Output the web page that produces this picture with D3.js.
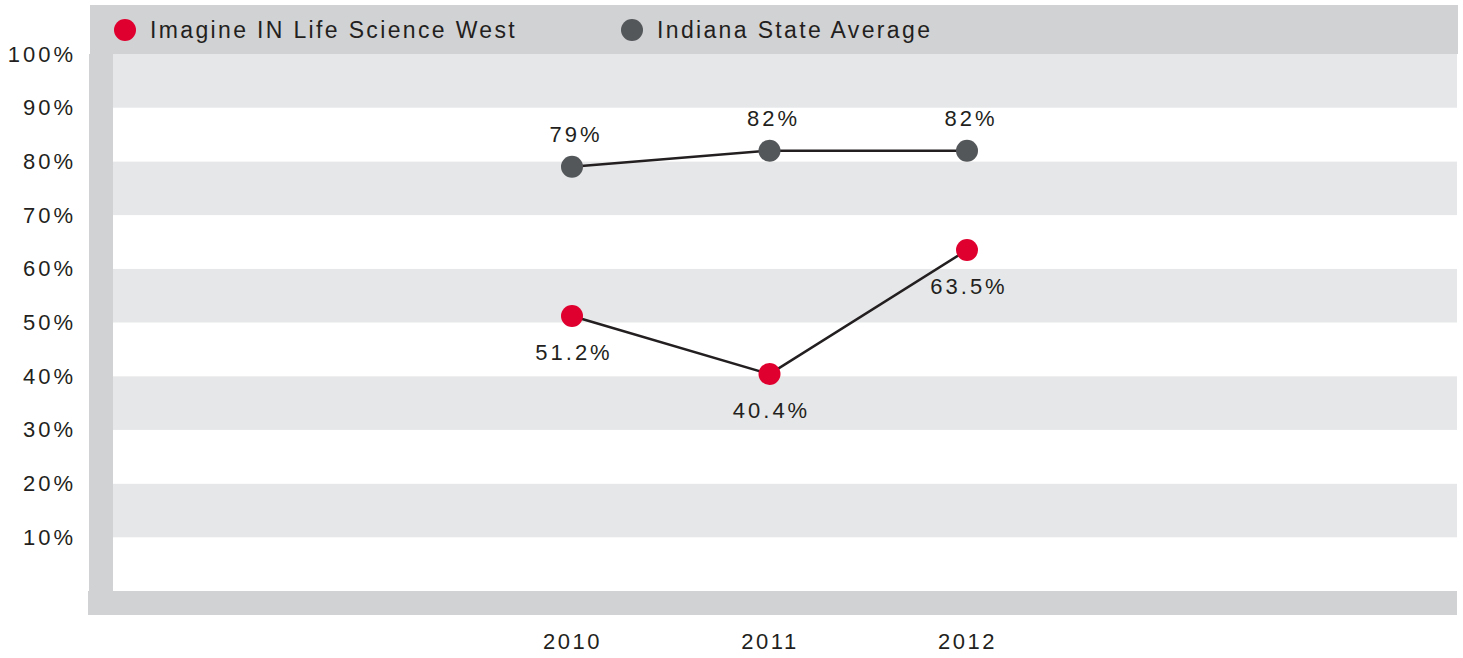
<!DOCTYPE html>
<html>
<head>
<meta charset="UTF-8">
<script src="https://d3js.org/d3.v7.min.js"></script>
<style>
  body { margin: 0; background: #fff; }
  text { font-family: "Liberation Sans", Arial, sans-serif; fill: #231f20; }
</style>
</head>
<body>
<div id="chart"></div>
<script>
// data
var years = [2010, 2011, 2012];
var schoolValues = [51.2, 40.4, 63.5];
var stateValues = [79, 82, 82];
var schoolLabels = ["51.2%", "40.4%", "63.5%"];
var stateLabels = ["79%", "82%", "82%"];
var yTicks = [10, 20, 30, 40, 50, 60, 70, 80, 90, 100];
var seriesNames = ["Imagine IN Life Science West", "Indiana State Average"];
var seriesColors = ["#e0002f", "#54575a"];

var width = 1463, height = 658;
var plot = {left: 113, right: 1457, top: 54, bottom: 591};

var svg = d3.select("#chart").append("svg")
    .attr("width", width)
    .attr("height", height);

var x = d3.scaleLinear().domain([2010, 2012]).range([572, 967]);
var y = d3.scaleLinear().domain([0, 100]).range([plot.bottom, plot.top]);

// frame: legend band, left and bottom bars
svg.append("rect").attr("x", 90).attr("y", 5).attr("width", 1368).attr("height", plot.top - 5).attr("fill", "#d1d2d4");
svg.append("rect").attr("x", 89).attr("y", plot.top).attr("width", plot.left - 89).attr("height", plot.bottom - plot.top).attr("fill", "#d1d2d4");
svg.append("rect").attr("x", 88).attr("y", plot.bottom).attr("width", 1369).attr("height", 24).attr("fill", "#d1d2d4");

// stripes every 10%
var bands = d3.range(0, 100, 10);
svg.selectAll("rect.band")
    .data(bands)
  .enter().append("rect")
    .attr("class", "band")
    .attr("x", plot.left)
    .attr("width", plot.right - plot.left)
    .attr("y", function(d) { return y(d + 10); })
    .attr("height", function(d) { return y(d) - y(d + 10); })
    .attr("fill", function(d, i) { return i % 2 == 1 ? "#e6e7e8" : "#ffffff"; });

// y axis
var yAxis = svg.append("g")
    .attr("transform", "translate(76,0)")
    .call(d3.axisLeft(y).tickValues(yTicks).tickSize(0).tickPadding(0).tickFormat(function(d) { return d + "%"; }));
yAxis.select(".domain").remove();
yAxis.selectAll("text")
    .style("font-size", "22px")
    .style("letter-spacing", "3px")
    .style("font-family", "'Liberation Sans', Arial, sans-serif")
    .attr("fill", "#231f20");

// x axis
var xAxis = svg.append("g")
    .attr("transform", "translate(0,633)")
    .call(d3.axisBottom(x).tickValues(years).tickSize(0).tickPadding(0).tickFormat(d3.format("d")));
xAxis.select(".domain").remove();
xAxis.selectAll("text")
    .style("font-size", "22px")
    .style("letter-spacing", "2.5px")
    .style("font-family", "'Liberation Sans', Arial, sans-serif")
    .attr("fill", "#231f20");

// lines
var line = d3.line()
    .x(function(d) { return x(d.year); })
    .y(function(d) { return y(d.value); });

var schoolData = years.map(function(yr, i) { return {year: yr, value: schoolValues[i], label: schoolLabels[i]}; });
var stateData = years.map(function(yr, i) { return {year: yr, value: stateValues[i], label: stateLabels[i]}; });

[schoolData, stateData].forEach(function(data) {
  svg.append("path")
      .datum(data)
      .attr("d", line)
      .attr("fill", "none")
      .attr("stroke", "#231f20")
      .attr("stroke-width", 2.5);
});

// points
svg.selectAll("circle.school")
    .data(schoolData)
  .enter().append("circle")
    .attr("cx", function(d) { return x(d.year); })
    .attr("cy", function(d) { return y(d.value); })
    .attr("r", 11)
    .attr("fill", seriesColors[0]);

svg.selectAll("circle.state")
    .data(stateData)
  .enter().append("circle")
    .attr("cx", function(d) { return x(d.year); })
    .attr("cy", function(d) { return y(d.value); })
    .attr("r", 11)
    .attr("fill", seriesColors[1]);

// value labels
svg.selectAll("text.schoolLabel")
    .data(schoolData)
  .enter().append("text")
    .attr("x", function(d) { return x(d.year) + 2; })
    .attr("y", function(d) { return y(d.value) + 44; })
    .attr("text-anchor", "middle")
    .style("font-size", "22px")
    .style("letter-spacing", "3px")
    .text(function(d) { return d.label; });

svg.selectAll("text.stateLabel")
    .data(stateData)
  .enter().append("text")
    .attr("x", function(d) { return x(d.year) + 4; })
    .attr("y", function(d) { return y(d.value) - 25; })
    .attr("text-anchor", "middle")
    .style("font-size", "22px")
    .style("letter-spacing", "3px")
    .text(function(d) { return d.label; });

// legend
var legendX = [125, 632];
seriesNames.forEach(function(name, i) {
  svg.append("circle")
      .attr("cx", legendX[i])
      .attr("cy", 30)
      .attr("r", 11)
      .attr("fill", seriesColors[i]);
  svg.append("text")
      .attr("x", legendX[i] + 25)
      .attr("y", 38)
      .style("font-size", "23px")
      .style("letter-spacing", "2.35px")
      .text(name);
});
</script>
</body>
</html>
